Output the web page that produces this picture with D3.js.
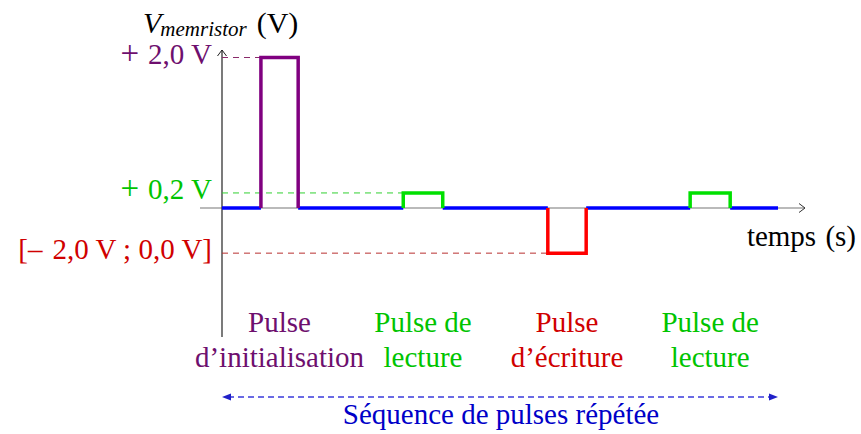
<!DOCTYPE html>
<html><head><meta charset="utf-8">
<script src="https://cdn.jsdelivr.net/npm/d3@7"></script>
<style>html,body{margin:0;padding:0;background:#fff}svg{display:block}</style>
</head><body>
<script>
// ---- data (schematic pulse sequence) ----
const pulseNames = ["init", "read1", "write", "read2"];
const pulseStart = [7.0, 32.6, 58.6, 84.2];          // time units (0..100)
const pulseEnd   = [13.7, 39.7, 65.5, 91.4];
const pulseLevel = [2.0, 0.2, -0.6, 0.2];            // drawn level (V, schematic)
const pulseLine1 = ["Pulse", "Pulse de", "Pulse", "Pulse de"];
const pulseLine2 = ["d\u2019initialisation", "lecture", "d\u2019\u00e9criture", "lecture"];
const levelTicks = [2.0, 0.2, -0.6];
const levelPrefix = ["+", "+", "[\u2013"];
const levelLabels = ["2,0 V", "0,2 V", "2,0 V ; 0,0 V]"];
const levelDashTo = [7.0, 32.6, 58.6];
const seqStart = 0, seqEnd = 100;

// ---- styles ----
const lineColor = {init:"#800080", read1:"#00e000", write:"#ff0000", read2:"#00e000"};
const textColor = {init:"#6e0f6e", read1:"#00c400", write:"#d00000", read2:"#00c400"};
const levelText = ["#6e0f6e", "#00c400", "#d00000"];
const levelDash = ["#8a2a6a", "#30d030", "#b83030"];
const prefixGap = [9, 9, 10];
const prefixSize = [33, 33, 29];

const W = 861, H = 434;
const svg = d3.select("body").append("svg").attr("width", W).attr("height", H);
const x = d3.scaleLinear().domain([0, 100]).range([222, 778]);
const y = d3.scaleLinear().domain([0, 2]).range([208, 57.5]);
const font = "'Liberation Serif','Times New Roman',serif";
const fs = 29;

// x axis (gray)
svg.append("line").attr("x1", 200).attr("x2", 805).attr("y1", y(0)).attr("y2", y(0))
  .attr("stroke", "#777").attr("stroke-width", 1.2);
svg.append("path").attr("d", `M799,${y(0)-4.5} L805,${y(0)} L799,${y(0)+4.5}`)
  .attr("fill", "none").attr("stroke", "#333").attr("stroke-width", 1);
// y axis
svg.append("line").attr("x1", x(0)).attr("x2", x(0)).attr("y1", 337).attr("y2", 50)
  .attr("stroke", "#222").attr("stroke-width", 1.2);
svg.append("path").attr("d", `M${x(0)-4.5},56 L${x(0)},50 L${x(0)+4.5},56`)
  .attr("fill", "none").attr("stroke", "#222").attr("stroke-width", 1);

// dashed level lines
levelTicks.forEach((v, i) => {
  svg.append("line").attr("x1", x(0)).attr("x2", x(levelDashTo[i]))
    .attr("y1", y(v)).attr("y2", y(v))
    .attr("stroke", levelDash[i]).attr("stroke-width", 1).attr("stroke-dasharray", "6,5");
  const tx = svg.append("text").attr("x", 212).attr("y", y(v) + 6)
    .attr("text-anchor", "end").attr("font-family", font).attr("font-size", fs)
    .attr("fill", levelText[i]);
  tx.append("tspan").attr("font-size", prefixSize[i]).text(levelPrefix[i]);
  tx.append("tspan").attr("dx", prefixGap[i]).text(levelLabels[i]);
});

// blue baseline segments between pulses
const bounds = [seqStart].concat(pulseStart.flatMap((s, i) => [s, pulseEnd[i]])).concat([seqEnd]);
for (let k = 0; k < bounds.length; k += 2) {
  svg.append("line").attr("x1", x(bounds[k])).attr("x2", x(bounds[k + 1]))
    .attr("y1", y(0)).attr("y2", y(0))
    .attr("stroke", "#0000ff").attr("stroke-width", 3.5);
}

// pulses
pulseNames.forEach((n, i) => {
  const p = d3.path();
  p.moveTo(x(pulseStart[i]), y(0));
  p.lineTo(x(pulseStart[i]), y(pulseLevel[i]));
  p.lineTo(x(pulseEnd[i]), y(pulseLevel[i]));
  p.lineTo(x(pulseEnd[i]), y(0));
  svg.append("path").attr("d", p.toString()).attr("fill", "none")
    .attr("stroke", lineColor[n]).attr("stroke-width", 3.5).attr("stroke-linejoin", "miter");
  const cx = x((pulseStart[i] + pulseEnd[i]) / 2);
  svg.append("text").attr("x", cx).attr("y", 332).attr("text-anchor", "middle")
    .attr("font-family", font).attr("font-size", fs).attr("fill", textColor[n]).text(pulseLine1[i]);
  svg.append("text").attr("x", cx).attr("y", 367).attr("text-anchor", "middle")
    .attr("font-family", font).attr("font-size", fs).attr("fill", textColor[n]).text(pulseLine2[i]);
});

// title
const t = svg.append("text").attr("x", 143).attr("y", 33).attr("font-family", font)
  .attr("font-size", 30).attr("fill", "#000");
t.append("tspan").attr("font-style", "italic").text("V");
t.append("tspan").attr("font-style", "italic").attr("font-size", 21).attr("dy", 3).attr("dx", -1).text("memristor");
t.append("tspan").attr("dy", -3).attr("dx", 10).text("(V)");

// x label
svg.append("text").attr("x", 856).attr("y", 246).attr("text-anchor", "end")
  .attr("font-family", font).attr("font-size", fs).style("word-spacing", "2px")
  .attr("fill", "#000").text("temps (s)");

// sequence arrow
const ay = 397;
svg.append("line").attr("x1", x(seqStart) + 6).attr("x2", x(seqEnd) - 6).attr("y1", ay).attr("y2", ay)
  .attr("stroke", "#3a3adc").attr("stroke-width", 1.3).attr("stroke-dasharray", "6,4");
svg.append("path").attr("d", `M${x(seqStart)},${ay} L${x(seqStart)+9},${ay-3.5} L${x(seqStart)+9},${ay+3.5} Z`)
  .attr("fill", "#2020c8");
svg.append("path").attr("d", `M${x(seqEnd)},${ay} L${x(seqEnd)-9},${ay-3.5} L${x(seqEnd)-9},${ay+3.5} Z`)
  .attr("fill", "#2020c8");
svg.append("text").attr("x", (x(seqStart) + x(seqEnd)) / 2 + 1).attr("y", 424).attr("text-anchor", "middle")
  .attr("font-family", font).attr("font-size", fs).attr("fill", "#0000c8").text("S\u00e9quence de pulses r\u00e9p\u00e9t\u00e9e");
</script>
</body></html>
